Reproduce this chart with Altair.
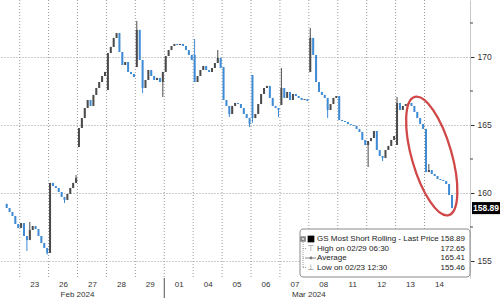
import altair as alt
import pandas as pd

# ---------------- data ----------------
day_labels = ["22", "23", "26", "27", "28", "29", "01", "04", "05", "06", "07", "08", "11", "12", "13", "14"]
day_index = [-1, 0, 1, 2, 3, 4, 5, 6, 7, 8, 9, 10, 11, 12, 13, 14]
day_open = [159.20, 157.43, 155.59, 163.38, 167.57, 169.26, 168.90, 170.15,
            169.26, 168.68, 166.47, 168.90, 167.13, 163.53, 163.53, 164.71]

close_feb22 = [158.90, 158.60, 158.31, 157.72, 157.43]
close_feb23 = [157.79, 156.84, 156.54, 157.28, 157.57, 157.35, 156.84, 156.32, 155.96, 155.59]
close_feb26 = [160.74, 160.51, 160.37, 160.07, 159.71, 159.49, 159.93, 160.37, 160.74, 161.10]
close_feb27 = [164.78, 165.51, 166.25, 166.84, 166.40, 167.21, 167.72, 168.16, 168.60, 168.90]
close_feb28 = [170.29, 170.74, 171.40, 171.76, 170.37, 169.41, 169.63, 168.90, 168.75, 168.53]
close_feb29 = [171.99, 169.78, 167.72, 168.31, 169.04, 168.60, 168.31, 168.46, 168.16, 168.90]
close_mar01 = [170.07, 170.51, 170.81, 170.96, 170.88, 170.96, 170.81, 170.51, 170.15, 169.78]
close_mar04 = [168.16, 168.60, 169.04, 169.34, 169.04, 168.90, 169.19, 169.56, 169.93, 169.19]
close_mar05 = [166.84, 166.40, 165.81, 166.40, 166.62, 166.54, 166.25, 165.81, 165.51, 165.07]
close_mar06 = [165.51, 165.81, 166.54, 167.28, 167.72, 167.87, 166.99, 166.40, 166.25, 166.10]
close_mar07 = [167.72, 166.99, 167.43, 166.84, 167.28, 167.13, 166.99, 166.84, 166.91, 166.76]
close_mar08 = [171.40, 170.15, 168.16, 167.43, 167.21, 166.99, 166.10, 166.54, 166.99, 167.13]
close_mar11 = [165.37, 165.29, 165.22, 165.07, 165.00, 164.93, 164.71, 164.49, 163.90, 163.53]
close_mar12 = [163.82, 164.04, 164.56, 163.16, 162.72, 162.57, 163.16, 163.46, 163.90, 164.19]
close_mar13 = [166.62, 166.10, 166.40, 166.54, 166.62, 166.40, 165.96, 165.51, 165.07, 164.71]
close_mar14 = [161.54, 161.69, 161.40, 161.25, 161.03, 160.96, 160.88, 160.66, 159.85, 158.89]

day_closes = [close_feb22, close_feb23, close_feb26, close_feb27, close_feb28, close_feb29,
              close_mar01, close_mar04, close_mar05, close_mar06, close_mar07, close_mar08,
              close_mar11, close_mar12, close_mar13, close_mar14]

high_day = ["23", "26", "29", "04", "04", "07", "08", "13", "14"]
high_bar = [3, 9, 0, 0, 8, 0, 0, 0, 1]
high_val = [157.87, 161.32, 172.65, 171.32, 170.51, 169.19, 172.13, 167.06, 162.13]

low_day = ["23", "23", "26", "29", "29", "05", "05", "06", "06", "08", "12", "12"]
low_bar = [2, 9, 5, 2, 9, 2, 9, 0, 9, 6, 0, 5]
low_val = [155.74, 155.46, 159.26, 167.35, 167.06, 165.59, 164.85, 165.15, 165.59, 165.51, 161.91, 162.35]

y_ticks = [155, 160, 165, 170]
y_minor = [157.5, 162.5, 167.5, 172.5]
month_labels = ["Feb 2024", "Mar 2024"]
month_pos = [2, 10]
month_start = [5]

legend_names = ["GS Most Short Rolling - Last Price", "High on 02/29 06:30", "Average", "Low on 02/23 12:30"]
legend_values = ["158.89", "172.65", "165.41", "155.46"]
last_price = 158.89

# ---------------- build table ----------------
BARS_PER_DAY = 10
highs = {(d, b): v for d, b, v in zip(high_day, high_bar, high_val)}
lows = {(d, b): v for d, b, v in zip(low_day, low_bar, low_val)}
rows = []
for lab, di, op, cl in zip(day_labels, day_index, day_open, day_closes):
    offset = BARS_PER_DAY - len(cl)
    prev = op
    for k, c in enumerate(cl):
        o = prev
        hi = max(o, c, highs.get((lab, k), c))
        lo = min(o, c, lows.get((lab, k), c))
        rows.append({"x": di + (offset + k + 0.5) / BARS_PER_DAY, "open": o, "close": c,
                     "high": hi, "low": lo, "dir": "up" if c >= o else "down"})
        prev = c
df = pd.DataFrame(rows)

FONT = "Liberation Sans"
x_scale = alt.Scale(domain=[-0.508, 15.40], nice=False, zero=False)
y_scale = alt.Scale(domain=[153.75, 174.19], nice=False, zero=False)
color = alt.Color("dir:N", scale=alt.Scale(domain=["up", "down"], range=["#4b4b4b", "#3f8bd4"]), legend=None)

label_arr = "[" + ",".join("'%s'" % l for l in day_labels[1:]) + "]"
x_axis = alt.Axis(values=[i + 0.5 for i in range(15)], labelExpr=label_arr + "[floor(datum.value)]",
                  ticks=False, domain=False, grid=False, labelFontSize=8, labelColor="#333",
                  labelFont=FONT, labelPadding=2, labelFlush=False, labelOverlap=False, title=None)
y_axis = alt.Axis(orient="right", values=y_ticks, format="d", grid=True, gridDash=[1, 2],
                  gridColor="#9a9a9a", tickSize=4, tickColor="#333", domain=True, domainColor="#c8c8c8",
                  labelFontSize=8.5, labelColor="#333", labelFont=FONT, labelPadding=3, title=None)


def X(f):
    return alt.X(f, scale=x_scale, axis=x_axis)


def Y(f):
    return alt.Y(f, scale=y_scale, axis=y_axis)


one = pd.DataFrame({"a": [0]})

vgrid = alt.Chart(pd.DataFrame({"b": list(range(0, 15))})).mark_rule(
    color="#9a9a9a", strokeDash=[1, 2], strokeWidth=1).encode(x=X("b:Q"))

wicks = alt.Chart(df).mark_rule(strokeWidth=1).encode(
    x=X("x:Q"), y=Y("low:Q"), y2="high:Q", color=color)

bars = alt.Chart(df).mark_bar(size=2).encode(
    x=X("x:Q"), y=Y("open:Q"), y2="close:Q", color=color)

ellipse_path = ("M 0 -1 C 0.1795 -1 0.325 -0.5523 0.325 0 C 0.325 0.5523 0.1795 1 0 1 "
                "C -0.1795 1 -0.325 0.5523 -0.325 0 C -0.325 -0.5523 -0.1795 -1 0 -1 Z")
ellipse = alt.Chart(pd.DataFrame({"ex": [14.25], "ey": [162.72]})).mark_point(
    shape=ellipse_path, size=15129, angle=344, filled=False, stroke="#d04848",
    strokeWidth=2.3, opacity=1).encode(x=X("ex:Q"), y=Y("ey:Q"))

minor = alt.Chart(pd.DataFrame({"m": y_minor})).mark_rule(color="#444").encode(
    y=Y("m:Q"), x=alt.value(470), x2=alt.value(473))

month_txt = alt.Chart(pd.DataFrame({"mx": month_pos, "ml": month_labels})).mark_text(
    fontSize=8, font=FONT, color="#333", baseline="middle").encode(
    x=X("mx:Q"), y=alt.value(294.5), text="ml:N")

sep = alt.Chart(pd.DataFrame({"s": month_start})).mark_rule(color="#555").encode(
    x=X("s:Q"), y=alt.value(278), y2=alt.value(298))

# legend box
box = alt.Chart(one).mark_rect(fill="white", stroke="#8a8a8a", strokeWidth=1, cornerRadius=3).encode(
    x=alt.value(300), x2=alt.value(470), y=alt.value(229), y2=alt.value(277))
row_px = [239, 248.5, 258, 267.5]
leg_layers = []
for name, val, py in zip(legend_names, legend_values, row_px):
    leg_layers.append(alt.Chart(one).mark_text(align="left", baseline="middle", fontSize=8,
                                               font=FONT, color="#222", text=name).encode(
        x=alt.value(317), y=alt.value(py)))
    leg_layers.append(alt.Chart(one).mark_text(align="right", baseline="middle", fontSize=8,
                                               font=FONT, color="#222", text=val).encode(
        x=alt.value(465), y=alt.value(py)))
tree = alt.Chart(one).mark_rule(color="#999", strokeDash=[1, 1]).encode(
    x=alt.value(303), y=alt.value(242), y2=alt.value(267.5))
branch_layers = [alt.Chart(one).mark_rule(color="#999", strokeDash=[1, 1]).encode(
    x=alt.value(303), x2=alt.value(307), y=alt.value(py)) for py in row_px[1:]]
sq_small = alt.Chart(one).mark_square(size=14, filled=False, color="#888", opacity=1).encode(
    x=alt.value(303), y=alt.value(239))
sq_black = alt.Chart(one).mark_square(size=45, color="black", opacity=1).encode(
    x=alt.value(311), y=alt.value(239))
icon_hi = alt.Chart(one).mark_text(text="⊤", fontSize=8, color="#777", font="DejaVu Sans").encode(
    x=alt.value(311), y=alt.value(row_px[1]))
icon_avg_line = alt.Chart(one).mark_rule(color="#888").encode(
    x=alt.value(306), x2=alt.value(316), y=alt.value(row_px[2]))
icon_avg_dot = alt.Chart(one).mark_circle(size=8, color="#777", opacity=1).encode(
    x=alt.value(311), y=alt.value(row_px[2]))
icon_lo = alt.Chart(one).mark_text(text="⊥", fontSize=8, color="#777", font="DejaVu Sans").encode(
    x=alt.value(311), y=alt.value(row_px[3]))

# last price tag
tag_path = "M -1 -0.43 L 1 -0.43 L 1 0.43 L -1 0.43 Z"
tag = alt.Chart(pd.DataFrame({"lp": [last_price]})).mark_point(
    shape=tag_path, size=784, filled=True, color="black", opacity=1).encode(
    x=alt.value(486), y=Y("lp:Q"))
tag_txt = alt.Chart(pd.DataFrame({"lp": [last_price]})).mark_text(
    fontSize=8.5, font=FONT, color="white", fontWeight="bold", baseline="middle").encode(
    x=alt.value(486), y=Y("lp:Q"), text=alt.Text("lp:Q", format=".2f"))

chart = alt.layer(
    vgrid, wicks, bars, ellipse, minor, month_txt, sep, box, *leg_layers, tree, *branch_layers,
    sq_small, sq_black, icon_hi, icon_avg_line, icon_avg_dot, icon_lo, tag, tag_txt
).properties(
    width=470, height=278, autosize="none",
    padding={"left": 0, "top": 0, "right": 30, "bottom": 20},
    background="white"
).configure_view(strokeWidth=0)

chart.save("out.html", embed_options={"renderer": "svg", "actions": False})
